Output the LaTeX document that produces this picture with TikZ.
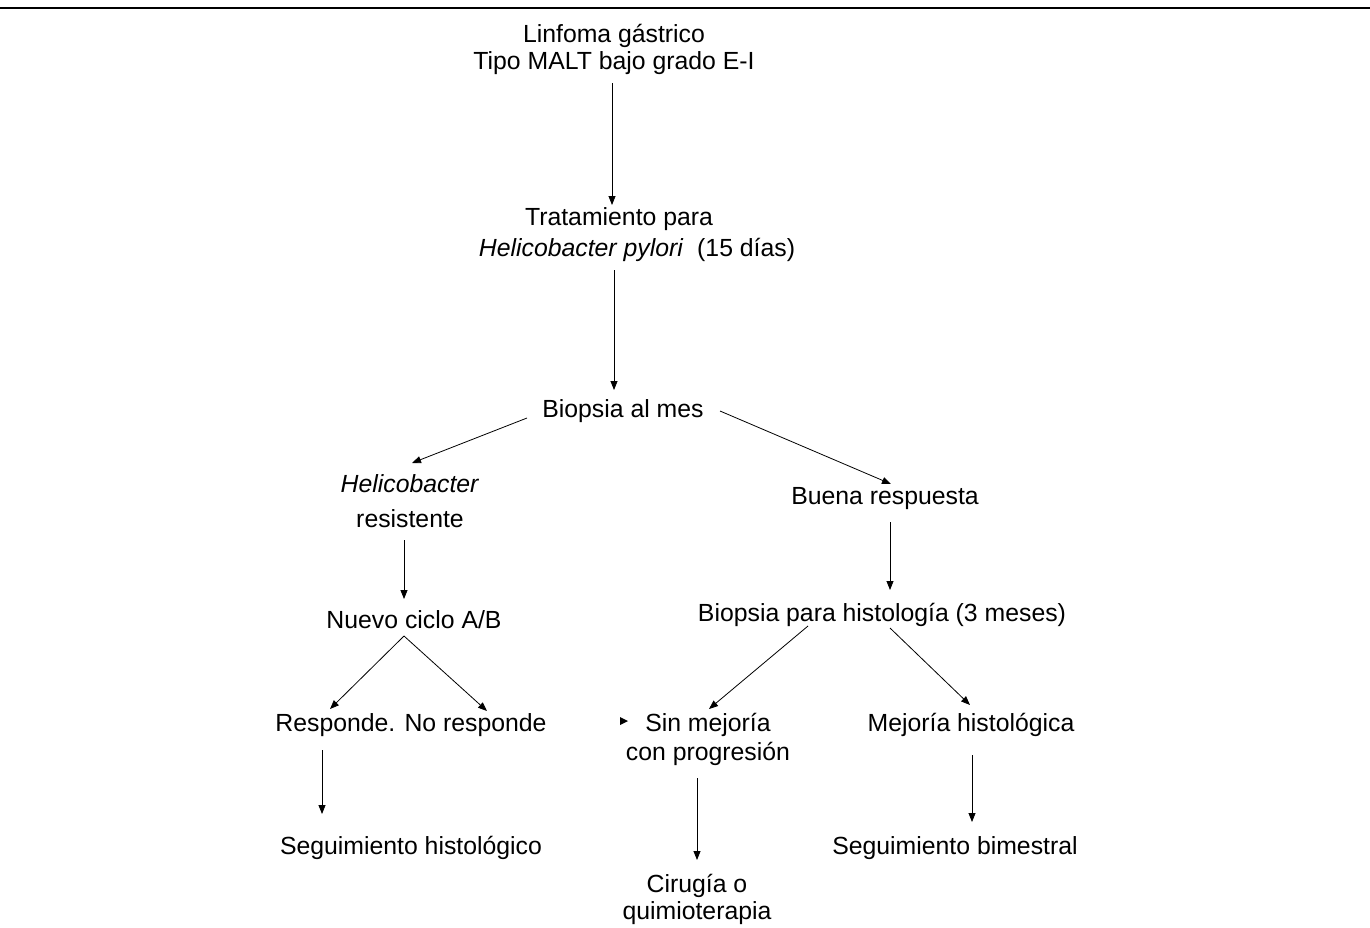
\documentclass[tikz,border=0pt]{standalone}
\usepackage{fontspec}
\setmainfont{Liberation Sans}
\usetikzlibrary{arrows.meta}
\begin{document}
\begin{tikzpicture}[x=1pt,y=-1pt,
  lbl/.style={font=\fontsize{24.8}{27}\selectfont, align=center, inner sep=0pt},
  arr/.style={-{Triangle[length=9pt,width=7pt]}, line width=0.8pt}]
\useasboundingbox (0,0) rectangle (1370,927);
\draw[line width=1.8pt] (0,8) -- (1370,8);

\node[lbl] (n1) at (614,49) {Linfoma gástrico\\Tipo MALT bajo grado E-I};
\node[lbl, font=\fontsize{24.8}{31}\selectfont] (n2) at (637,235) {Tratamiento para\hspace*{36pt}\mbox{}\\\textit{Helicobacter pylori}\ \ (15 días)};
\node[lbl] (n3) at (623,411) {Biopsia al mes};
\node[lbl, font=\fontsize{24.8}{35}\selectfont] (n4) at (410,501) {\textit{Helicobacter}\\resistente};
\node[lbl] (n5) at (885,499) {Buena respuesta};
\node[lbl] (n6) at (414,620) {Nuevo ciclo A/B};
\node[lbl] (n7) at (411,725) {Responde. No responde};
\node[lbl] (n8) at (411,848) {Seguimiento histológico};
\node[lbl] (n9) at (882,615) {Biopsia para histología (3 meses)};
\node[lbl, font=\fontsize{24.8}{29}\selectfont] (n10) at (708,739) {Sin mejoría\\con progresión};
\node[lbl] (n11) at (697,899) {Cirugía o\\quimioterapia};
\node[lbl] (n12) at (971,725) {Mejoría histológica};
\node[lbl] (n13) at (955,848) {Seguimiento bimestral};

\fill (620,717) -- (628,721) -- (620,725) -- cycle;

\draw[arr] ([shift={(-2,34)}]n1.center) -- ([shift={(-25,-30)}]n2.center);
\draw[arr] ([shift={(-23,35)}]n2.center) -- ([shift={(-9,-21)}]n3.center);
\draw[arr] ([shift={(-96,7)}]n3.center) -- ([shift={(2,-38)}]n4.center);
\draw[arr] ([shift={(97,0)}]n3.center) -- ([shift={(6,-15)}]n5.center);
\draw[arr] ([shift={(-6,39)}]n4.center) -- ([shift={(-10,-21)}]n6.center);
\draw[arr] ([shift={(-10,16)}]n6.center) -- ([shift={(-81,-16)}]n7.center);
\draw[arr] ([shift={(-10,16)}]n6.center) -- ([shift={(76,-14)}]n7.center);
\draw[arr] ([shift={(-89,25)}]n7.center) -- ([shift={(-89,-34)}]n8.center);
\draw[arr] ([shift={(5,23)}]n5.center) -- ([shift={(8,-25)}]n9.center);
\draw[arr] ([shift={(-74,11)}]n9.center) -- ([shift={(1,-30)}]n10.center);
\draw[arr] ([shift={(8,13)}]n9.center) -- ([shift={(-1,-20)}]n12.center);
\draw[arr] ([shift={(-11,39)}]n10.center) -- ([shift={(0,-39)}]n11.center);
\draw[arr] ([shift={(1,30)}]n12.center) -- ([shift={(17,-26)}]n13.center);
\end{tikzpicture}
\end{document}
